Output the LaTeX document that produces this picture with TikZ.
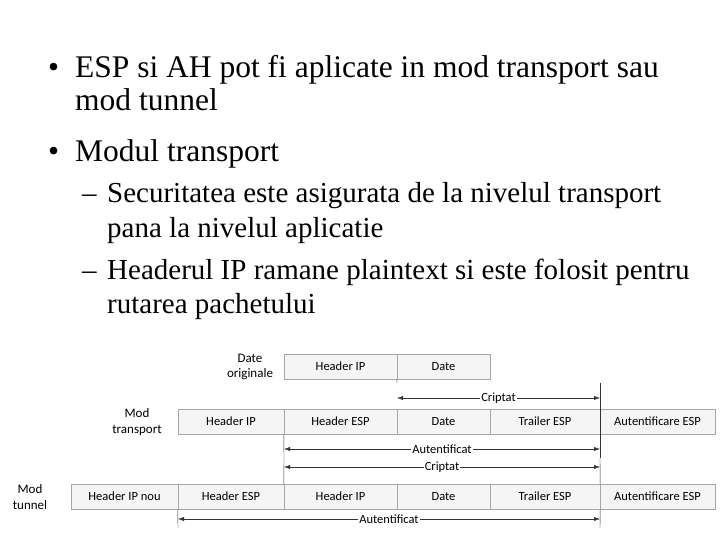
\documentclass[tikz,border=0pt]{standalone}
\usepackage{fontspec}
\setmainfont{Liberation Serif}
\newfontfamily\calfont{Carlito}
\usetikzlibrary{arrows.meta}
\begin{document}
\begin{tikzpicture}[x=1pt,y=-1pt,
  txt/.style={anchor=base west,inner sep=0,font=\fontsize{31.5}{36}\selectfont},
  stxt/.style={anchor=base west,inner sep=0,font=\fontsize{29}{34}\selectfont},
  cell/.style={draw=gray!70,fill=gray!8,inner sep=0,minimum height=25pt,text height=9pt,text depth=3pt,font=\calfont\fontsize{12.5}{14}\selectfont},
  lab/.style={align=center,inner sep=0,font=\calfont\fontsize{13}{15.5}\selectfont},
  dim/.style={{Latex[length=6pt,width=4pt]}-{Latex[length=6pt,width=4pt]},draw=black!80},
  dl/.style={fill=white,inner sep=1pt,font=\calfont\fontsize{12.5}{14}\selectfont},
  tick/.style={draw=black!80}]
\useasboundingbox (0,0) rectangle (720,540);
\node[txt] (b1) at (48,78) {•};
\node[txt] (l1) at (75,78) {ESP si AH pot fi aplicate in mod transport sau};
\node[txt] (l2) at (75,111) {mod tunnel};
\node[txt] (b2) at (48,162) {•};
\node[txt] (l3) at (75,162) {Modul transport};
\node[stxt] (d1) at (82,203) {–};
\node[stxt] (l4) at (107,203) {Securitatea este asigurata de la nivelul transport};
\node[stxt] (l5) at (107,237) {pana la nivelul aplicatie};
\node[stxt] (d2) at (82,279) {–};
\node[stxt] (l6) at (107,279) {Headerul IP ramane plaintext si este folosit pentru};
\node[stxt] (l7) at (107,313) {rutarea pachetului};
% original
\node[cell,minimum width=113pt] (o1) at (340.5,367) {Header IP};
\node[cell,minimum width=93pt] (o2) at (443.5,367) {Date};
\node[lab] (lo) at (250,367) {Date\\originale};
% transport
\node[cell,minimum width=106pt] (t1) at (231,422) {Header IP};
\node[cell,minimum width=113pt] (t2) at (340.5,422) {Header ESP};
\node[cell,minimum width=93pt] (t3) at (443.5,422) {Date};
\node[cell,minimum width=110pt] (t4) at (545,422) {Trailer ESP};
\node[cell,minimum width=115pt] (t5) at (657.5,422) {Autentificare ESP};
\node[lab] (lt) at (137,422) {Mod\\transport};
% tunnel
\node[cell,minimum width=107pt] (u0) at (124.5,497) {Header IP nou};
\node[cell,minimum width=106pt] (u1) at (231,497) {Header ESP};
\node[cell,minimum width=113pt] (u2) at (340.5,497) {Header IP};
\node[cell,minimum width=93pt] (u3) at (443.5,497) {Date};
\node[cell,minimum width=110pt] (u4) at (545,497) {Trailer ESP};
\node[cell,minimum width=115pt] (u5) at (657.5,497) {Autentificare ESP};
\node[lab] (lu) at (30,497) {Mod\\tunnel};
% ticks
\coordinate (a1) at (397,383); \coordinate (a2) at (600,383);
\coordinate (a3) at (284,458); \coordinate (a4) at (600,458);
\coordinate (a6) at (600,458);
\coordinate (a7) at (178,528); \coordinate (a8) at (600,528);
\draw[tick] (a1) -- (o2.south west);
\draw[tick] (a2) -- (a4);
\draw[tick] (t2.south west) -- (a3) -- (u2.north west);
\draw[tick] (a6) -- (u4.north east);
\draw[tick] (u4.south east) -- (a8);
\draw[tick] (u1.south west) -- (a7);
\draw[dim] (397,398) -- node[dl] (c1) {Criptat} (600,398);
\draw[dim] (284,449) -- node[dl] (c2) {Autentificat} (600,449);
\draw[dim] (284,467) -- node[dl] (c3) {Criptat} (600,467);
\draw[dim] (178,519) -- node[dl] (c4) {Autentificat} (600,519);
\end{tikzpicture}
\end{document}
